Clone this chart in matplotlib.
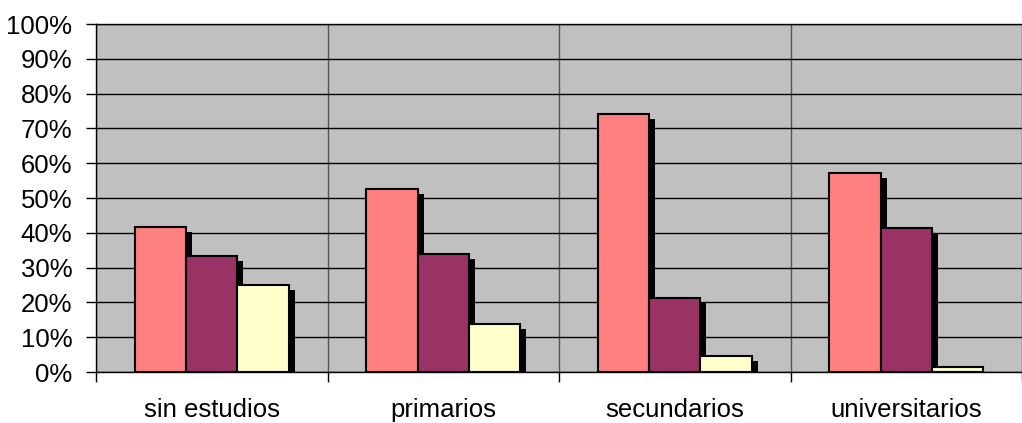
import numpy as np
import matplotlib
matplotlib.use("Agg")
from matplotlib import pyplot as plt
from matplotlib.transforms import ScaledTranslation

# data (percent)
categorias = ["sin estudios", "primarios", "secundarios", "universitarios"]
serie1 = [41.8, 52.6, 74.1, 57.1]
serie2 = [33.4, 33.9, 21.2, 41.3]
serie3 = [25.0, 13.7, 4.6, 1.3]
colores = ["#FF8080", "#993366", "#FFFFCC"]

plt.rcParams["font.family"] = ["Liberation Sans", "DejaVu Sans"]

fig = plt.figure(figsize=(10.22, 4.23), dpi=100)
ax = fig.add_axes([96/1022, 51/423, 926/1022, 348/423])
ax.set_facecolor("#C0C0C0")

x = np.arange(len(categorias))
w = 0.222
sombra = ax.transData + ScaledTranslation(0.06, -0.05, fig.dpi_scale_trans)

for i, (vals, col) in enumerate(zip([serie1, serie2, serie3], colores)):
    pos = x + (i - 1) * w
    # black drop shadow behind the bar
    ax.bar(pos, vals, width=w, color="black", linewidth=0, transform=sombra, zorder=2)
    ax.bar(pos, vals, width=w, color=col, edgecolor="black", linewidth=1.5, zorder=3)

ax.set_xlim(-0.5, len(categorias) - 0.5)
ax.set_ylim(0, 100)
ax.set_yticks(np.arange(0, 101, 10))
ax.set_yticklabels([f"{v}%" for v in range(0, 101, 10)], fontsize=18.5)

# category boundaries as ticks/gridlines, labels at centres
ax.set_xticks(np.arange(-0.5, len(categorias), 1.0))
ax.set_xticklabels([])
ax.set_xticks(x, minor=True)
ax.set_xticklabels(categorias, minor=True, fontsize=18.5)
ax.tick_params(axis="x", which="minor", length=0, pad=19)
ax.tick_params(axis="x", which="major", length=7, width=1, color="black")
ax.tick_params(axis="y", length=7, width=1, color="black", pad=10)

ax.grid(True, axis="y", color="black", linewidth=1, zorder=1)
ax.grid(True, axis="x", which="major", color="#555555", linewidth=1, zorder=1)
ax.set_axisbelow(True)

for s in ["left", "bottom", "top"]:
    ax.spines[s].set_color("black")
    ax.spines[s].set_linewidth(1)
ax.spines["right"].set_visible(False)

fig.savefig("out.png", dpi=100)
